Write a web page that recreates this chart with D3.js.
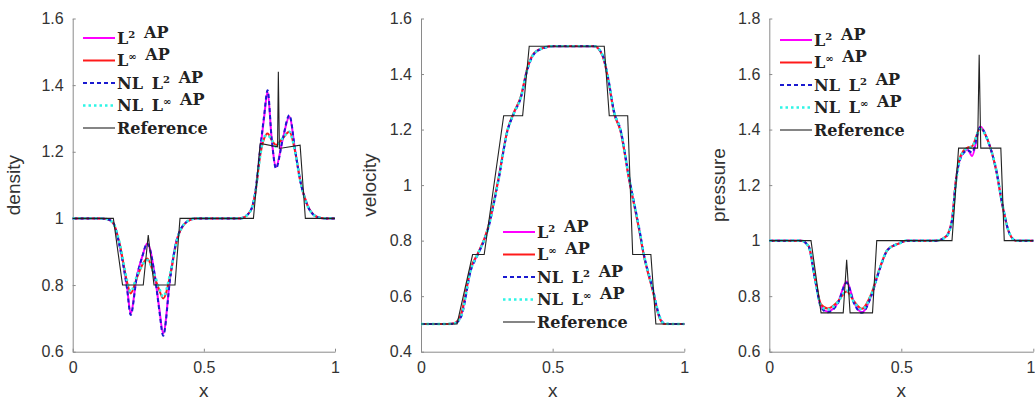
<!DOCTYPE html>
<html>
<head>
<meta charset="utf-8">
<script src="https://cdn.jsdelivr.net/npm/d3@7"></script>
<style>
  html, body { margin: 0; padding: 0; background: #fff; }
  svg { display: block; }
</style>
</head>
<body>
<svg id="chart" width="1035" height="403"></svg>
<script>
// ---------------- DATA ----------------
const xTicks = [0, 0.5, 1];
const seriesNames = ["L2 AP", "Linf AP", "NL L2 AP", "NL Linf AP", "Reference"];

// density panel
const densYTicks = [0.6, 0.8, 1, 1.2, 1.4, 1.6];
const densX      = [0, 0.10, 0.13, 0.155, 0.18, 0.207, 0.221, 0.244, 0.265, 0.284, 0.314, 0.33, 0.345, 0.372, 0.396, 0.435, 0.47, 0.55, 0.638, 0.676, 0.696, 0.715, 0.73, 0.743, 0.759, 0.775, 0.80, 0.826, 0.848, 0.867, 0.892, 0.93, 0.96, 1];
const densL2     = [1, 1, 0.998, 0.986, 0.915, 0.795, 0.715, 0.825, 0.885, 0.925, 0.825, 0.73, 0.655, 0.825, 0.935, 0.99, 1, 1, 1.0, 1.02, 1.075, 1.205, 1.305, 1.38, 1.235, 1.155, 1.235, 1.305, 1.205, 1.115, 1.045, 1.005, 1, 1];
const densLinf   = [1, 1, 0.998, 0.985, 0.92, 0.81, 0.775, 0.82, 0.86, 0.88, 0.82, 0.785, 0.76, 0.83, 0.93, 0.99, 1, 1, 1.0, 1.02, 1.075, 1.19, 1.24, 1.255, 1.235, 1.22, 1.24, 1.26, 1.2, 1.115, 1.045, 1.005, 1, 1];
const densNLL2   = [1, 1, 0.998, 0.986, 0.912, 0.79, 0.71, 0.822, 0.885, 0.925, 0.822, 0.725, 0.648, 0.822, 0.933, 0.99, 1, 1, 1.0, 1.02, 1.078, 1.21, 1.31, 1.385, 1.235, 1.15, 1.235, 1.31, 1.205, 1.115, 1.045, 1.005, 1, 1];
const densNLLinf = [1, 1, 0.998, 0.985, 0.922, 0.815, 0.78, 0.825, 0.86, 0.875, 0.825, 0.79, 0.765, 0.835, 0.93, 0.99, 1, 1, 1.0, 1.02, 1.075, 1.19, 1.245, 1.25, 1.235, 1.215, 1.24, 1.26, 1.2, 1.115, 1.045, 1.005, 1, 1];
const densRefX   = [0, 0.155, 0.19, 0.269, 0.288, 0.31, 0.39, 0.409, 0.689, 0.715, 0.781, 0.784, 0.788, 0.867, 0.887, 1];
const densRefY   = [1, 1, 0.8, 0.8, 0.95, 0.8, 0.8, 1, 1, 1.225, 1.215, 1.44, 1.21, 1.22, 1, 1];

// velocity panel
const velYTicks = [0.4, 0.6, 0.8, 1, 1.2, 1.4, 1.6];
const velX      = [0, 0.1, 0.127, 0.152, 0.19, 0.215, 0.253, 0.294, 0.329, 0.352, 0.38, 0.403, 0.43, 0.468, 0.5, 0.62, 0.658, 0.69, 0.709, 0.734, 0.757, 0.791, 0.829, 0.846, 0.88, 0.905, 0.924, 0.95, 1];
const velL2     = [0.5, 0.5, 0.502, 0.53, 0.70, 0.75, 0.839, 1.019, 1.199, 1.258, 1.319, 1.415, 1.475, 1.495, 1.5, 1.5, 1.5, 1.466, 1.392, 1.258, 1.199, 1.019, 0.839, 0.75, 0.623, 0.526, 0.5, 0.5, 0.5];
const velLinf   = [0.5, 0.5, 0.503, 0.535, 0.705, 0.752, 0.842, 1.022, 1.2, 1.26, 1.322, 1.418, 1.476, 1.495, 1.5, 1.5, 1.5, 1.464, 1.39, 1.256, 1.197, 1.016, 0.836, 0.748, 0.62, 0.524, 0.5, 0.5, 0.5];
const velNLL2   = [0.5, 0.5, 0.501, 0.525, 0.695, 0.748, 0.836, 1.016, 1.197, 1.256, 1.317, 1.412, 1.473, 1.494, 1.5, 1.5, 1.5, 1.468, 1.395, 1.262, 1.203, 1.024, 0.843, 0.753, 0.628, 0.53, 0.502, 0.5, 0.5];
const velNLLinf = [0.5, 0.5, 0.502, 0.528, 0.698, 0.75, 0.838, 1.018, 1.198, 1.257, 1.318, 1.414, 1.474, 1.495, 1.5, 1.5, 1.5, 1.467, 1.394, 1.26, 1.201, 1.022, 0.841, 0.752, 0.626, 0.528, 0.501, 0.5, 0.5];
const velRefX   = [0, 0.137, 0.196, 0.24, 0.314, 0.386, 0.411, 0.696, 0.715, 0.785, 0.804, 0.873, 0.892, 1];
const velRefY   = [0.5, 0.5, 0.75, 0.75, 1.25, 1.25, 1.5, 1.5, 1.25, 1.25, 0.75, 0.75, 0.5, 0.5];

// pressure panel
const presYTicks = [0.6, 0.8, 1, 1.2, 1.4, 1.6, 1.8];
const presX      = [0, 0.12, 0.149, 0.174, 0.196, 0.221, 0.259, 0.293, 0.322, 0.351, 0.385, 0.417, 0.448, 0.492, 0.52, 0.6, 0.631, 0.669, 0.692, 0.707, 0.726, 0.751, 0.768, 0.799, 0.827, 0.859, 0.884, 0.909, 0.934, 0.96, 1];
const presL2     = [1, 1, 0.98, 0.859, 0.763, 0.745, 0.775, 0.853, 0.775, 0.742, 0.799, 0.895, 0.967, 0.99, 1, 1, 1, 1.015, 1.075, 1.219, 1.303, 1.327, 1.305, 1.411, 1.363, 1.255, 1.123, 1.027, 1, 1, 1];
const presLinf   = [1, 1, 0.98, 0.86, 0.77, 0.756, 0.78, 0.817, 0.78, 0.755, 0.805, 0.897, 0.967, 0.99, 1, 1, 1, 1.015, 1.075, 1.219, 1.31, 1.335, 1.34, 1.405, 1.363, 1.255, 1.123, 1.027, 1, 1, 1];
const presNLL2   = [1, 1, 0.979, 0.855, 0.76, 0.742, 0.773, 0.848, 0.772, 0.74, 0.797, 0.893, 0.966, 0.99, 1, 1, 1, 1.013, 1.07, 1.215, 1.3, 1.325, 1.318, 1.408, 1.362, 1.257, 1.125, 1.028, 1, 1, 1];
const presNLLinf = [1, 1, 0.979, 0.857, 0.765, 0.752, 0.778, 0.82, 0.778, 0.752, 0.803, 0.896, 0.967, 0.99, 1, 1, 1, 1.014, 1.072, 1.21, 1.305, 1.333, 1.338, 1.402, 1.362, 1.257, 1.125, 1.028, 1, 1, 1];
const presRefX   = [0, 0.158, 0.196, 0.28, 0.293, 0.306, 0.391, 0.407, 0.692, 0.717, 0.789, 0.795, 0.801, 0.877, 0.89, 1];
const presRefY   = [1, 1, 0.74, 0.74, 0.931, 0.74, 0.74, 1, 1, 1.333, 1.333, 1.669, 1.333, 1.333, 1, 1];

// ---------------- STYLE ----------------
const styles = [
  { color: "#ff00ff", width: 2,   dash: null },
  { color: "#ff1a1a", width: 2,   dash: null },
  { color: "#1a1ad0", width: 2,   dash: "4,3" },
  { color: "#2ef5e6", width: 2.6, dash: "2.5,3" },
  { color: "#222222", width: 1.1, dash: null }
];

const panels = [
  { xr: [72.7, 335], yDomain: [0.6, 1.6], yTicks: densYTicks, ylabel: "density", ylabelX: 20,
    num: [densL2, densLinf, densNLL2, densNLLinf], numX: densX, refX: densRefX, refY: densRefY,
    legend: { x: 83, y: 38 } },
  { xr: [421, 684.3], yDomain: [0.4, 1.6], yTicks: velYTicks, ylabel: "velocity", ylabelX: 376,
    num: [velL2, velLinf, velNLL2, velNLLinf], numX: velX, refX: velRefX, refY: velRefY,
    legend: { x: 503, y: 232 } },
  { xr: [769.3, 1033.3], yDomain: [0.6, 1.8], yTicks: presYTicks, ylabel: "pressure", ylabelX: 725,
    num: [presL2, presLinf, presNLL2, presNLLinf], numX: presX, refX: presRefX, refY: presRefY,
    legend: { x: 780, y: 40 } }
];

const yr = [351.7, 18.5];
const svg = d3.select("#chart");
const axisColor = "#8a8a8a";
const labelColor = "#333";
const fmt = d3.format("~g");

panels.forEach((p, pi) => {
  const x = d3.scaleLinear().domain([0, 1]).range(p.xr);
  const y = d3.scaleLinear().domain(p.yDomain).range(yr);
  const g = svg.append("g");

  // axes
  const xAxis = d3.axisBottom(x).tickValues(xTicks).tickFormat(fmt).tickSizeInner(-3).tickSizeOuter(0).tickPadding(10);
  const yAxis = d3.axisLeft(y).tickValues(p.yTicks).tickFormat(fmt).tickSizeInner(-3).tickSizeOuter(0).tickPadding(9);
  const gx = g.append("g").attr("transform", `translate(0,${yr[0]})`).call(xAxis);
  const gy = g.append("g").attr("transform", `translate(${p.xr[0]},0)`).call(yAxis);
  [gx, gy].forEach(a => {
    a.select(".domain").attr("stroke", axisColor).attr("stroke-width", 1);
    a.selectAll(".tick line").attr("stroke", axisColor);
    a.selectAll(".tick text").attr("fill", labelColor)
      .style("font-family", "'Liberation Sans', Arial, sans-serif").style("font-size", "16px");
  });
  if (pi === panels.length - 1) {
    // last x tick label sits at the window edge: keep it inside
    gx.selectAll(".tick text").filter(d => d === 1).attr("text-anchor", "end").attr("x", 1.5);
  }

  // axis labels
  g.append("text").attr("x", (p.xr[0] + p.xr[1]) / 2).attr("y", 397)
    .attr("text-anchor", "middle").attr("fill", labelColor)
    .style("font-family", "'Liberation Sans', Arial, sans-serif").style("font-size", "19px").text("x");
  g.append("text").attr("transform", `translate(${p.ylabelX},${(yr[0] + yr[1]) / 2}) rotate(-90)`)
    .attr("text-anchor", "middle").attr("fill", labelColor)
    .style("font-family", "'Liberation Sans', Arial, sans-serif").style("font-size", "19px").text(p.ylabel);

  // series
  const line = d3.line().x(d => x(d[0])).y(d => y(d[1])).curve(d3.curveMonotoneX);
  const lineLin = d3.line().x(d => x(d[0])).y(d => y(d[1]));
  p.num.forEach((vals, i) => {
    const pts = p.numX.map((xx, k) => [xx, vals[k]]);
    const s = styles[i];
    g.append("path").attr("d", line(pts)).attr("fill", "none")
      .attr("stroke", s.color).attr("stroke-width", s.width)
      .attr("stroke-dasharray", s.dash).attr("stroke-linejoin", "round");
  });
  const refPts = p.refX.map((xx, k) => [xx, p.refY[k]]);
  g.append("path").attr("d", lineLin(refPts)).attr("fill", "none")
    .attr("stroke", styles[4].color).attr("stroke-width", styles[4].width);

  // legend
  const lg = g.append("g").attr("transform", `translate(${p.legend.x},${p.legend.y})`);
  seriesNames.forEach((name, i) => {
    const row = lg.append("g").attr("transform", `translate(0,${i * 22.5})`);
    const s = styles[i];
    row.append("line").attr("x1", 0).attr("x2", 32).attr("y1", 0).attr("y2", 0)
      .attr("stroke", s.color).attr("stroke-width", s.width).attr("stroke-dasharray", s.dash);
    const t = row.append("text").attr("x", 34).attr("y", 5.5).attr("fill", "#222")
      .style("font-family", "'DejaVu Serif', serif").style("font-weight", "bold").style("font-size", "16px");
    const parts = name.split(" ");
    parts.forEach((w, j) => {
      if (w === "L2" || w === "Linf") {
        t.append("tspan").text((j > 0 ? "\u00a0\u2009" : "") + "L");
        t.append("tspan").attr("dy", -6).style("font-size", "10px").text(w === "L2" ? "2" : "\u221e");
        t.append("tspan").attr("dy", 6).text("");
      } else {
        t.append("tspan").text((j > 0 ? "\u00a0\u2009" : "") + w);
      }
    });
  });
});
</script>
</body>
</html>
